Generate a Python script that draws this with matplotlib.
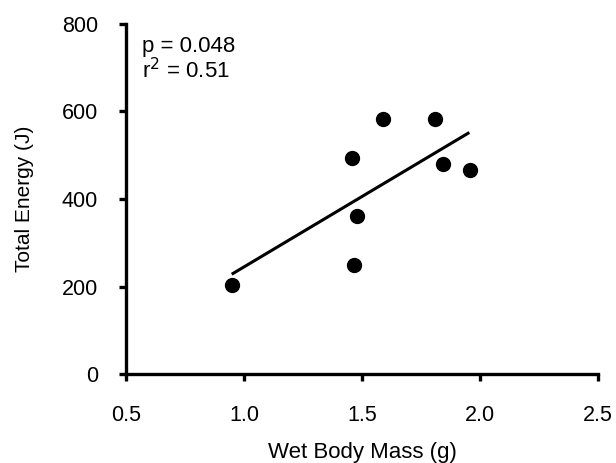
import matplotlib
matplotlib.use("Agg")
import matplotlib.pyplot as plt

plt.rcParams['font.family'] = ['Liberation Sans', 'DejaVu Sans']

# wet body mass (g) and total energy (J)
mass = [0.948, 1.466, 1.477, 1.459, 1.590, 1.809, 1.842, 1.958]
energy = [203, 249, 360, 493, 582, 582, 479, 467]

# regression line ends
fit_x = [0.948, 1.955]
fit_y = [228, 552]

fig = plt.figure(figsize=(6.16, 4.63), dpi=100)
ax = fig.add_axes([0.2045, 0.1922, 0.7662, 0.756])

ax.plot(fit_x, fit_y, color='black', lw=2.2, solid_capstyle='butt')
ax.plot(mass, energy, 'o', color='black', ms=10, clip_on=False)

ax.set_xlim(0.5, 2.5)
ax.set_ylim(0, 800)
ax.set_xticks([0.5, 1.0, 1.5, 2.0, 2.5])
ax.set_xticklabels(['0.5', '1.0', '1.5', '2.0', '2.5'])
ax.set_yticks([0, 200, 400, 600, 800])

for s in ['top', 'right']:
    ax.spines[s].set_visible(False)
for s in ['left', 'bottom']:
    ax.spines[s].set_linewidth(2.4)
ax.tick_params(width=2.4, length=5, labelsize=15.5)
ax.tick_params(axis='x', pad=17)
ax.tick_params(axis='y', pad=15)

ax.set_xlabel('Wet Body Mass (g)', fontsize=16, labelpad=12)
ax.set_ylabel('Total Energy (J)', fontsize=15, labelpad=20)

ax.text(0.034, 0.846, 'p = 0.048\nr$^2$ = 0.51', transform=ax.transAxes,
        fontsize=16, va='baseline', ha='left', linespacing=1.05)

fig.savefig('out.png', dpi=100)
